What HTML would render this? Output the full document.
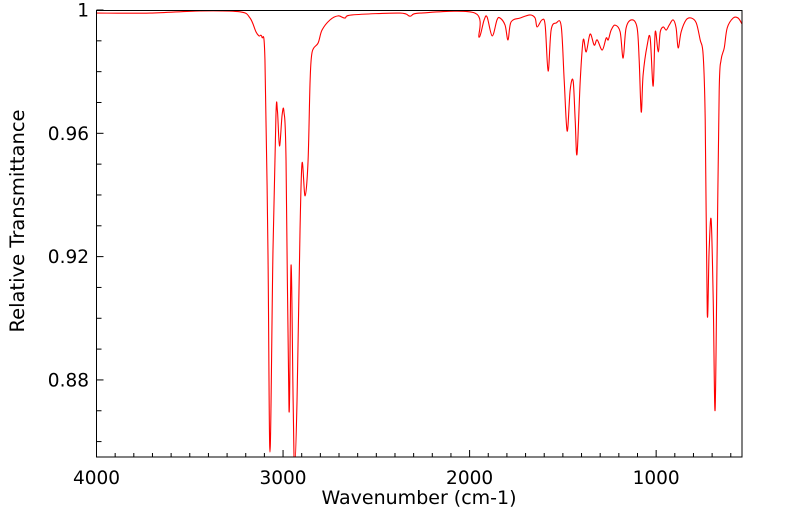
<!DOCTYPE html>
<html><head><meta charset="utf-8">
<style>
html,body{margin:0;padding:0;background:#fff;}
svg{display:block;font-family:"DejaVu Sans","Liberation Sans",sans-serif;}
</style></head>
<body>
<svg id="chart" width="799" height="516" viewBox="0 0 799 516" xmlns="http://www.w3.org/2000/svg">
<defs><clipPath id="pc"><rect x="96.5" y="10" width="645.5" height="447"/></clipPath></defs>
<g id="yticks"></g>
<g id="xticks"></g>
<path id="spectrum" fill="none" stroke="#ff0000" stroke-width="1.1" clip-path="url(#pc)"/>
<rect x="96.5" y="10.5" width="645.5" height="446.5" fill="none" stroke="#000" stroke-width="1"/>
<text x="24" y="221" font-size="19.5" text-anchor="middle" transform="rotate(-90 24 221)">Relative Transmittance</text>
<text x="419" y="504" font-size="19" text-anchor="middle">Wavenumber (cm-1)</text>
</svg>
<script>
const wavenumbers=[4000,3713,3445,3231,3177,3145,3129,3113,3097,3081,3070,3054,3038,3030,3019,3005,2995,2984,2968,2957,2946,2938,2925,2909,2898,2882,2866,2855,2844,2812,2791,2748,2705,2668,2630,2373,2319,2266,1971,1950,1922,1906,1879,1853,1837,1810,1794,1778,1729,1676,1649,1638,1612,1595,1579,1563,1536,1509,1493,1477,1461,1445,1434,1424,1407,1391,1375,1354,1332,1316,1289,1268,1257,1241,1220,1193,1177,1161,1129,1102,1091,1080,1070,1048,1032,1016,1005,989,978,962,946,930,909,893,882,866,839,812,785,764,748,737,726,716,705,694,684,673,662,652,635,619,587,561,540];
const transmittance=[.999,.999,.9997,.9994,.9974,.9929,.9916,.9912,.9838,.922,.8566,.922,.966,.9672,.9559,.966,.9669,.9513,.870,.9173,.8735,.851,.8735,.9286,.9504,.9397,.951,.977,.9864,.9893,.9935,.9968,.9981,.9974,.9984,.999,.998,.999,.999,.9912,.9968,.9977,.9916,.9968,.9974,.9951,.9903,.9961,.9974,.9984,.9974,.9945,.9968,.9951,.9802,.9935,.9958,.9948,.9773,.9607,.974,.977,.9643,.9533,.977,.9903,.9864,.9922,.9886,.9903,.9870,.9909,.9903,.9935,.9951,.9929,.9844,.9942,.9968,.9942,.9838,.9669,.9789,.9886,.9909,.9753,.9929,.9864,.9929,.9945,.9935,.9951,.9968,.9942,.9877,.9929,.9968,.9974,.9958,.9903,.9854,.9643,.9017,.9221,.9319,.9059,.8702,.9221,.974,.9838,.9877,.9942,.9974,.9974,.9955];
const yTickValues=[1,0.96,0.92,0.88];
const yTickLabels=["1","0.96","0.92","0.88"];
const xTickValues=[4000,3000,2000,1000];
const xTickLabels=["4000","3000","2000","1000"];

const X0=96.5,X1=742,Y0=10,Y1=457;
const W0=4000,W1=539.8,T0=1,T1=0.855;
function sx(w){return X0+(W0-w)/(W0-W1)*(X1-X0);}
function sy(t){return Y0+(T0-t)/(T0-T1)*(Y1-Y0);}
const NS="http://www.w3.org/2000/svg";

const pts=wavenumbers.map((w,i)=>[sx(w),sy(transmittance[i])]);
let d="M"+pts[0][0].toFixed(2)+" "+pts[0][1].toFixed(2);
for(let i=0;i<pts.length-1;i++){
  const p0=pts[i-1]||pts[i],p1=pts[i],p2=pts[i+1],p3=pts[i+2]||pts[i+1];
  const c1=[p1[0]+(p2[0]-p0[0])/6,p1[1]+(p2[1]-p0[1])/6];
  const c2=[p2[0]-(p3[0]-p1[0])/6,p2[1]-(p3[1]-p1[1])/6];
  d+=" C"+c1[0].toFixed(2)+" "+c1[1].toFixed(2)+" "+c2[0].toFixed(2)+" "+c2[1].toFixed(2)+" "+p2[0].toFixed(2)+" "+p2[1].toFixed(2);
}
document.getElementById('spectrum').setAttribute('d',d);

const yg=document.getElementById('yticks');
for(let v=100;v>=86;v--){
  const t=v/100,y=sy(t);
  const major=yTickValues.some(m=>Math.abs(m-t)<1e-9);
  const ln=document.createElementNS(NS,'line');
  
  
  ln.setAttribute('x1',X0);ln.setAttribute('x2',X0+(major?7:5));
  ln.setAttribute('y1',y);ln.setAttribute('y2',y);
  ln.setAttribute('stroke','#000');
  yg.appendChild(ln);
}
yTickValues.forEach((v,i)=>{
  const tx=document.createElementNS(NS,'text');
  
  
  tx.setAttribute('x',89);tx.setAttribute('y',sy(v)+6.5);
  tx.setAttribute('font-size','18.5');tx.setAttribute('text-anchor','end');
  tx.textContent=yTickLabels[i];
  yg.appendChild(tx);
});
const xg=document.getElementById('xticks');
for(let w=4000;w>=600;w-=100){
  const x=sx(w),major=w%1000===0;
  const ln=document.createElementNS(NS,'line');
  
  
  ln.setAttribute('x1',x);ln.setAttribute('x2',x);
  ln.setAttribute('y1',Y1);ln.setAttribute('y2',Y1-(major?7:4));
  ln.setAttribute('stroke','#000');
  xg.appendChild(ln);
}
xTickValues.forEach((v,i)=>{
  const tx=document.createElementNS(NS,'text');
  
  
  tx.setAttribute('x',sx(v));tx.setAttribute('y',484);
  tx.setAttribute('font-size','18.5');tx.setAttribute('text-anchor','middle');
  tx.textContent=xTickLabels[i];
  xg.appendChild(tx);
});
</script>
</body></html>
